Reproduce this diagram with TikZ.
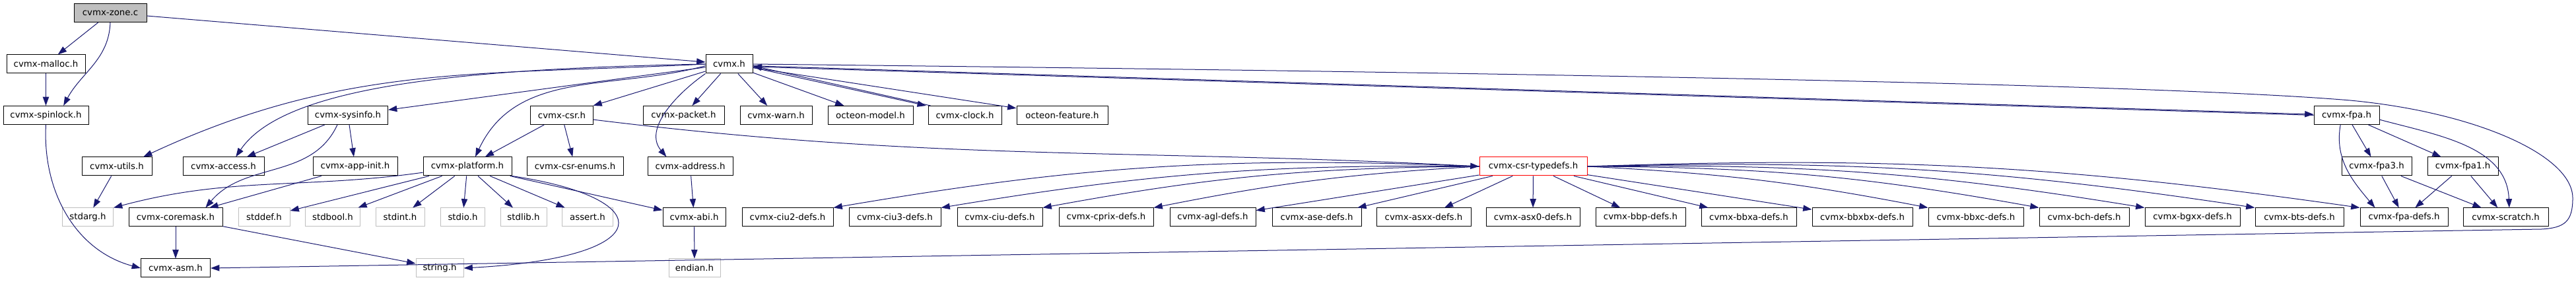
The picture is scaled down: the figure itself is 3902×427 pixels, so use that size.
\documentclass[tikz,border=0pt]{standalone}
\usepackage{fontspec}
\setmainfont{DejaVu Sans}
\usetikzlibrary{arrows.meta}
\definecolor{edgeblue}{HTML}{191970}
\definecolor{sysgray}{HTML}{BFBFBF}
\tikzset{
  hdr/.style={draw=black, line width=0.75pt, minimum height=21pt, inner sep=0pt,
    font=\fontsize{10}{12}\selectfont, minimum width=#1*0.75pt},
  hdr/.default=100,
  syshdr/.style={hdr=#1, draw=sysgray},
  dep/.style={draw=edgeblue, line width=0.75pt, -{Triangle[length=10pt,width=7pt]}},
}
\begin{document}
\begin{tikzpicture}[x=0.75pt,y=-0.75pt]
  \useasboundingbox (0,0) rectangle (3902,427);
  % source file
  \node[hdr=110, fill=sysgray] (zone) at (167,19.5) {cvmx-zone.c};
  % first and second level headers
  \node[hdr=119] (malloc) at (69.5,97) {cvmx-malloc.h};
  \node[hdr=71] (cvmx) at (1104.5,97) {cvmx.h};
  \node[hdr=129] (spinlock) at (69.5,174.5) {cvmx-spinlock.h};
  \node[hdr=121] (sysinfo) at (527,174.5) {cvmx-sysinfo.h};
  \node[hdr=95] (csr) at (851,174.5) {cvmx-csr.h};
  \node[hdr=123] (packet) at (1035.5,174.5) {cvmx-packet.h};
  \node[hdr=109] (warn) at (1175.5,174.5) {cvmx-warn.h};
  \node[hdr=129] (model) at (1318.5,174.5) {octeon-model.h};
  \node[hdr=111] (clock) at (1461.5,174.5) {cvmx-clock.h};
  \node[hdr=138] (feature) at (1609,174.5) {octeon-feature.h};
  \node[hdr=99] (fpa) at (3554.5,174.5) {cvmx-fpa.h};
  % third level
  \node[hdr=106] (utils) at (177,252) {cvmx-utils.h};
  \node[hdr=123] (access) at (338.5,252) {cvmx-access.h};
  \node[hdr=128] (appinit) at (538,252) {cvmx-app-init.h};
  \node[hdr=134] (platform) at (708,252) {cvmx-platform.h};
  \node[hdr=146] (csrenums) at (871,252) {cvmx-csr-enums.h};
  \node[hdr=129] (address) at (1045.5,252) {cvmx-address.h};
  \node[hdr=163, draw=red] (typedefs) at (2322.5,252) {cvmx-csr-typedefs.h};
  \node[hdr=106] (fpa3) at (3600,252) {cvmx-fpa3.h};
  \node[hdr=107] (fpa1) at (3730.5,252) {cvmx-fpa1.h};
  % fourth level, system headers in gray
  \node[syshdr=77] (stdarg) at (133,329) {stdarg.h};
  \node[hdr=142] (coremask) at (266,329) {cvmx-coremask.h};
  \node[syshdr=78] (stddef) at (400,329) {stddef.h};
  \node[syshdr=83] (stdbool) at (504,329) {stdbool.h};
  \node[syshdr=74] (stdint) at (606,329) {stdint.h};
  \node[syshdr=67] (stdio) at (701,329) {stdio.h};
  \node[syshdr=70] (stdlib) at (793,329) {stdlib.h};
  \node[syshdr=77] (assert) at (890,329) {assert.h};
  \node[hdr=95] (abi) at (1051.5,329) {cvmx-abi.h};
  % csr register definitions
  \node[hdr=138] (ciu2) at (1193,329) {cvmx-ciu2-defs.h};
  \node[hdr=139] (ciu3) at (1355.5,329) {cvmx-ciu3-defs.h};
  \node[hdr=129] (ciu) at (1514.5,329) {cvmx-ciu-defs.h};
  \node[hdr=143] (cprix) at (1675.5,329) {cvmx-cprix-defs.h};
  \node[hdr=130] (agl) at (1837,329) {cvmx-agl-defs.h};
  \node[hdr=135] (ase) at (1994.5,329) {cvmx-ase-defs.h};
  \node[hdr=143] (asxx) at (2156.5,329) {cvmx-asxx-defs.h};
  \node[hdr=142] (asx0) at (2322,329) {cvmx-asx0-defs.h};
  \node[hdr=136] (bbp) at (2485,329) {cvmx-bbp-defs.h};
  \node[hdr=144] (bbxa) at (2649,329) {cvmx-bbxa-defs.h};
  \node[hdr=152] (bbxbx) at (2821,329) {cvmx-bbxbx-defs.h};
  \node[hdr=144] (bbxc) at (2993,329) {cvmx-bbxc-defs.h};
  \node[hdr=136] (bch) at (3157,329) {cvmx-bch-defs.h};
  \node[hdr=144] (bgxx) at (3321,329) {cvmx-bgxx-defs.h};
  \node[hdr=134] (bts) at (3483,329) {cvmx-bts-defs.h};
  \node[hdr=133] (fpadefs) at (3641.5,329) {cvmx-fpa-defs.h};
  \node[hdr=129] (scratch) at (3795.5,329) {cvmx-scratch.h};
  % bottom row
  \node[hdr=105] (asm) at (266,406) {cvmx-asm.h};
  \node[syshdr=72] (string) at (666,406) {string.h};
  \node[syshdr=78] (endian) at (1052,406) {endian.h};

  % edges from the source file
  \draw[dep] (zone) -- (cvmx);
  \draw[dep] (zone) -- (malloc);
  \draw[dep] (zone.south) to[out=-92,in=62] ([xshift=20pt]spinlock.north);
  \draw[dep] (malloc) -- (spinlock);
  \draw[dep] (spinlock.south) to[out=-93,in=165] (asm.west);
  % cvmx.h to the left
  \draw[dep] (cvmx.west) to[out=183,in=25] ([xshift=-10pt]utils.north east);
  \draw[dep] (cvmx.west) .. controls (700,104) and (430,130) .. ([xshift=14pt]access.north);
  \draw[dep] (cvmx) -- (sysinfo);
  \draw[dep] ([yshift=-2pt]cvmx.west) to[out=195,in=65] ([xshift=9pt]platform.north);
  \draw[dep] (cvmx) -- (csr);
  \draw[dep] (cvmx.south west) to[out=-145,in=130] ([xshift=-27pt]address.north);
  % cvmx.h to the right
  \draw[dep] (cvmx) -- (packet);
  \draw[dep] (cvmx) -- (warn);
  \draw[dep] (cvmx) -- (model);
  \draw[dep] ([yshift=-4pt]cvmx.east) -- ([xshift=-2pt]clock.north west);
  \draw[dep] ([xshift=3pt]clock.north west) -- ([yshift=-2pt]cvmx.east);
  \draw[dep] (cvmx) -- (feature);
  \draw[dep] ([yshift=-2pt]cvmx.east) -- ([yshift=1pt]fpa.west);
  \draw[dep] ([yshift=0pt]fpa.west) -- ([yshift=-3pt]cvmx.east);
  % long way round to cvmx-asm.h
  \coordinate (loopa) at (3560,152);
  \coordinate (loopb) at (3897,300);
  \coordinate (loopc) at (3850,347);
  \draw[dep] (cvmx.east) .. controls (2500,112) and (3300,130) .. (loopa)
    .. controls (3750,170) and (3897,235) .. (loopb)
    .. controls (3897,335) and (3885,345) .. (loopc) -- (asm.east);
  % sysinfo and friends
  \draw[dep] (sysinfo) -- (access);
  \draw[dep] (sysinfo) -- (appinit);
  \draw[dep] ([xshift=-12pt]sysinfo.south) to[out=-115,in=50] ([xshift=34pt]coremask.north);
  \draw[dep] (appinit) -- (coremask);
  \draw[dep] (utils) -- (stdarg);
  \draw[dep] (coremask) -- (asm);
  \draw[dep] (coremask) -- (string);
  % cvmx-csr.h
  \draw[dep] (csr) -- (platform);
  \draw[dep] (csr) -- (csrenums);
  \draw[dep] ([yshift=-5pt]csr.east) to[out=-7,in=177] (typedefs.west);
  % cvmx-platform.h
  \draw[dep] ([yshift=4pt]platform.south west) to[out=188,in=15] (stdarg.north east);
  \draw[dep] (platform) -- (stddef); \draw[dep] (platform) -- (stdbool);
  \draw[dep] (platform) -- (stdint); \draw[dep] (platform) -- (stdio);
  \draw[dep] (platform) -- (stdlib); \draw[dep] (platform) -- (assert);
  \draw[dep] (platform) -- (abi);
  \draw[dep] (platform.south east) .. controls (1000,300) and (1000,390) .. (string.east);
  \draw[dep] (address) -- (abi);
  \draw[dep] (abi) -- (endian);
  % cvmx-csr-typedefs.h
  \draw[dep] (typedefs.west) to[bend right=6] (ciu2.north east);
  \draw[dep] (typedefs.west) to[bend right=5] (ciu3.north east);
  \draw[dep] (typedefs.west) to[bend right=5] (ciu.north east);
  \draw[dep] (typedefs.west) to[bend right=4] (cprix.north east);
  \draw[dep] (typedefs) -- (agl); \draw[dep] (typedefs) -- (ase);
  \draw[dep] (typedefs) -- (asxx); \draw[dep] (typedefs) -- (asx0);
  \draw[dep] (typedefs) -- (bbp); \draw[dep] (typedefs) -- (bbxa);
  \draw[dep] (typedefs) -- (bbxbx);
  \draw[dep] (typedefs.east) to[bend left=4] (bbxc.north west);
  \draw[dep] (typedefs.east) to[bend left=5] (bch.north west);
  \draw[dep] (typedefs.east) to[bend left=5] (bgxx.north west);
  \draw[dep] (typedefs.east) to[bend left=5] (bts.north west);
  \draw[dep] (typedefs.east) to[bend left=5] (fpadefs.north west);
  % cvmx-fpa.h
  \draw[dep] ([xshift=-7pt]fpa.south) to[out=-100,in=130] ([xshift=-33pt]fpadefs.north);
  \draw[dep] (fpa) -- (fpa3);
  \draw[dep] (fpa) -- (fpa1);
  \draw[dep] ([yshift=-5pt]fpa.east) to[out=-15,in=92] ([xshift=4pt]scratch.north);
  \draw[dep] (fpa3) -- (fpadefs); \draw[dep] (fpa3) -- (scratch);
  \draw[dep] (fpa1) -- (fpadefs); \draw[dep] (fpa1) -- (scratch);
\end{tikzpicture}
\end{document}
